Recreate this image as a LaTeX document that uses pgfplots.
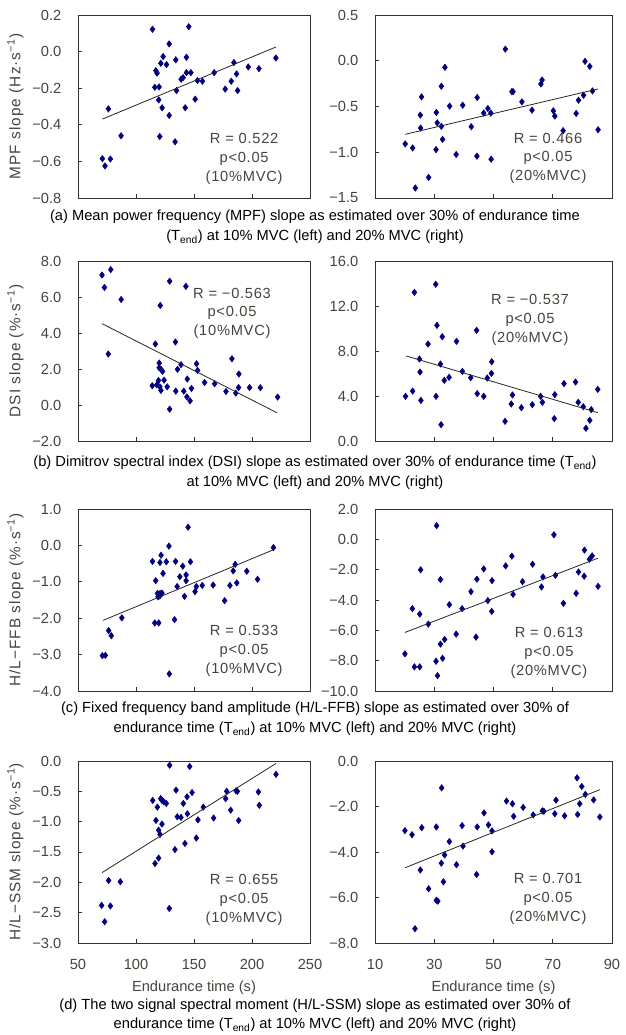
\documentclass[border=0pt]{standalone}
\usepackage{fontspec}
\setmainfont{Liberation Sans}
\newfontfamily\spaced[LetterSpace=7]{Liberation Sans}
\newfontfamily\spacedann[LetterSpace=5]{Liberation Sans}
\usepackage{pgfplots}
\pgfplotsset{compat=1.18}
\definecolor{navy}{RGB}{0,0,128}
\definecolor{tickgray}{RGB}{72,66,60}
\pgfplotsset{
  panel/.style={
    scale only axis,
    axis line style={draw=black!80, line width=0.6pt},
    tick style={draw=black!80, line width=0.5pt},
    tick align=inside,
    major tick length=3pt,
    xtick pos=bottom, ytick pos=left,
    every tick label/.append style={font=\fontsize{11}{13}\selectfont, text=tickgray},
    yticklabel style={xshift=-9pt},
    xticklabel style={yshift=-9pt},
    every axis y label/.style={at={(axis description cs:-0.27,0.5)}, rotate=90, anchor=center, font=\spaced\fontsize{11.5}{13}\selectfont, text=tickgray},
    every axis x label/.style={at={(axis description cs:0.5,-0.247)}, anchor=center, font=\fontsize{11}{13}\selectfont, text=tickgray},
    clip mode=individual,
  },
  leftp/.style={panel, width=174pt, xmin=50, xmax=250, xtick={50,100,150,200,250}},
  rightp/.style={panel, width=177.75pt, xmin=10, xmax=90, xtick={10,30,50,70,90}},
  pts/.style={only marks, mark=diamond*, mark size=2.4pt, mark options={fill=navy, draw=navy}},
  trend/.style={no marks, draw=black!85, line width=0.6pt},
}
\newcommand{\ann}[3]{\node[align=center, font=\spacedann\fontsize{11}{14}\selectfont, text=tickgray] at (rel axis cs:#1,#2) {#3};}
\begin{document}
\begin{tikzpicture}
\path[use as bounding box] (0,0) rectangle (468.75pt,776.25pt);
% ---------- (a) left
\begin{axis}[leftp, at={(58.5pt,627.75pt)}, anchor=south west, height=137.25pt,
  ymin=-0.8, ymax=0.2, ytick={-0.8,-0.6,-0.4,-0.2,0,0.2},
  yticklabels={−0.8,−0.6,−0.4,−0.2,0.0,0.2}, xticklabels={},
  ylabel={MPF slope (Hz·s\textsuperscript{−1})}]
\addplot[pts] coordinates {(114.2,0.122) (145.5,0.136) (128.6,0.042) (123.4,-0.027) (121.4,-0.064) (126.3,-0.071) (117.1,-0.104) (118.2,-0.118) (134.3,-0.045) (143.5,-0.031) (143.5,-0.115) (147.3,-0.115) (138.9,-0.151) (140.6,-0.142) (134.9,-0.213) (116.2,-0.195) (119.9,-0.193) (153.0,-0.158) (157.3,-0.162) (167.4,-0.115) (184.4,-0.060) (186.7,-0.122) (196.8,-0.084) (206.0,-0.093) (220.6,-0.035) (182.1,-0.162) (176.9,-0.205) (187.6,-0.213) (151.0,-0.260) (119.6,-0.264) (122.5,-0.307) (142.4,-0.307) (128.6,-0.349) (76.2,-0.313) (87.1,-0.460) (120.5,-0.464) (133.7,-0.493) (71.0,-0.585) (77.9,-0.587) (73.3,-0.625)};
\addplot[trend] coordinates {(71,-0.369) (220.6,0.025)};
\ann{0.716}{0.213}{R = 0.522\\p<0.05\\(10\%MVC)}
\end{axis}
% ---------- (a) right
\begin{axis}[rightp, at={(281.25pt,627.75pt)}, anchor=south west, height=137.25pt,
  ymin=-1.5, ymax=0.5, ytick={-1.5,-1,-0.5,0,0.5},
  yticklabels={−1.5,−1.0,−0.5,0.0,0.5}, xticklabels={}]
\addplot[pts] coordinates {(54.0,0.127) (80.9,-0.007) (82.5,-0.062) (33.6,-0.072) (32.4,-0.279) (66.4,-0.21) (66.0,-0.254) (56.2,-0.337) (56.6,-0.337) (83.4,-0.33) (80.4,-0.377) (78.7,-0.431) (59.6,-0.449) (44.5,-0.402) (25.7,-0.395) (35.2,-0.496) (39.6,-0.486) (48.1,-0.522) (63.0,-0.54) (70.2,-0.547) (70.7,-0.605) (77.9,-0.576) (25.3,-0.594) (30.7,-0.565) (46.7,-0.572) (49.1,-0.572) (31.0,-0.678) (32.4,-0.717) (42.5,-0.721) (25.4,-0.736) (32.8,-0.859) (73.5,-0.764) (85.3,-0.754) (20.2,-0.909) (22.7,-0.953) (30.6,-0.971) (37.4,-1.025) (44.4,-1.043) (49.2,-1.076) (28.1,-1.275) (23.6,-1.391)};
\addplot[trend] coordinates {(20.2,-0.804) (85.3,-0.308)};
\ann{0.73}{0.217}{R = 0.466\\p<0.05\\(20\%MVC)}
\end{axis}
% ---------- (b) left
\begin{axis}[leftp, at={(58.5pt,445.5pt)}, anchor=south west, height=135pt,
  ymin=-2, ymax=8, ytick={-2,0,2,4,6,8},
  yticklabels={−2.0,0.0,2.0,4.0,6.0,8.0}, xticklabels={},
  ylabel={DSI slope (\%·s\textsuperscript{−1})}]
\addplot[pts] coordinates {(70.7,7.22) (78.2,7.52) (72.8,6.53) (87.2,5.86) (76.1,2.83) (129,6.88) (143,6.59) (120.9,5.53) (116.7,3.39) (134,3.50) (120,2.33) (120,2.07) (121.8,1.96) (122.9,1.87) (135.8,1.98) (138.8,2.24) (152.2,2.29) (153.1,1.92) (182.7,2.57) (188.7,1.72) (114,1.07) (117.9,1.12) (119.4,1.36) (124.2,1.38) (126.9,1.01) (120.6,1.01) (121.5,0.81) (144.2,1.44) (159.1,1.25) (167.8,1.18) (147.8,0.92) (134.3,0.77) (141.2,0.77) (177.6,0.75) (186,0.66) (188.4,0.97) (197.9,0.97) (207.2,0.96) (143.9,0.45) (146.6,0.23) (129,-0.23) (222.1,0.44)};
\addplot[trend] coordinates {(70.7,4.52) (221.8,-0.44)};
\ann{0.664}{0.71}{R = −0.563\\p<0.05\\(10\%MVC)}
\end{axis}
% ---------- (b) right
\begin{axis}[rightp, at={(281.25pt,445.5pt)}, anchor=south west, height=135pt,
  ymin=0, ymax=16, ytick={0,4,8,12,16},
  yticklabels={0.0,4.0,8.0,12.0,16.0}, xticklabels={}]
\addplot[pts] coordinates {(30.5,13.93) (23.3,13.21) (30.9,10.28) (44.3,9.84) (32.7,9.27) (27.9,8.62) (37.5,8.86) (25,7.29) (49.4,7.05) (32.1,6.84) (25.2,6.13) (49.3,6.01) (39.5,6.19) (35,5.66) (33.4,5.39) (42.3,5.63) (47.9,5.6) (20.3,3.97) (22.7,4.44) (25.5,3.61) (30.6,3.97) (32.3,1.45) (44.5,4.21) (46.7,3.97) (53.9,1.75) (56.4,4.09) (56,3.29) (59.4,2.96) (63.1,3.23) (65.9,3.97) (66.5,3.44) (70.7,4.12) (70.5,1.99) (73.8,5.1) (77.7,5.24) (78.6,3.44) (80.3,3.05) (81.2,1.13) (82.5,1.84) (83,2.79) (85.2,4.59)};
\addplot[trend] coordinates {(20.5,7.56) (85.2,2.52)};
\ann{0.654}{0.672}{R = −0.537\\p<0.05\\(20\%MVC)}
\end{axis}
% ---------- (c) left
\begin{axis}[leftp, at={(58.5pt,258pt)}, anchor=south west, height=136.5pt,
  ymin=-4, ymax=1, ytick={-4,-3,-2,-1,0,1},
  yticklabels={−4.0,−3.0,−2.0,−1.0,0.0,1.0}, xticklabels={},
  ylabel={H/L−FFB slope (\%·s\textsuperscript{−1})}]
\addplot[pts] coordinates {(144.9,0.50) (128.4,-0.02) (218.5,-0.06) (114.2,-0.44) (120.7,-0.47) (126.1,-0.45) (134.1,-0.44) (121.6,-0.27) (146.9,-0.45) (140.3,-0.57) (123.3,-0.77) (137.8,-0.86) (143.2,-0.81) (143.2,-0.97) (117,-0.97) (185.5,-0.52) (183.8,-0.70) (195.5,-0.71) (204.8,-0.93) (186.9,-1.03) (181,-1.10) (166.5,-1.09) (157.1,-1.10) (152,-1.13) (135.5,-1.13) (150.9,-1.27) (141.8,-1.40) (176.4,-1.52) (118.5,-1.32) (120.7,-1.32) (122.4,-1.31) (119,-1.41) (120.5,-1.39) (87.8,-1.99) (133.2,-2.04) (116.2,-2.13) (119.6,-2.13) (76.4,-2.34) (78.7,-2.48) (71,-3.03) (73.6,-3.02) (128.7,-3.53)};
\addplot[trend] coordinates {(71.6,-2.06) (218.5,-0.12)};
\ann{0.716}{0.22}{R = 0.533\\p<0.05\\(10\%MVC)}
\end{axis}
% ---------- (c) right
\begin{axis}[rightp, at={(281.25pt,258pt)}, anchor=south west, height=136.5pt,
  ymin=-10, ymax=2, ytick={-10,-8,-6,-4,-2,0,2},
  yticklabels={−10.0,−8.0,−6.0,−4.0,−2.0,0.0,2.0}, xticklabels={}]
\addplot[pts] coordinates {(30.8,0.90) (70.4,0.30) (80.7,-0.71) (83.3,-1.09) (82.4,-1.31) (56.2,-1.11) (54.1,-1.75) (63.2,-1.64) (46.7,-1.95) (25.4,-2.01) (32.1,-2.65) (44.4,-2.63) (49.5,-2.72) (59.8,-2.79) (66.7,-2.48) (70.9,-2.37) (78.7,-2.15) (80.6,-2.43) (66.2,-3.14) (85.3,-3.10) (42.4,-3.45) (56.6,-3.63) (77.9,-3.56) (73.6,-4.22) (48.1,-4.04) (35.1,-4.31) (22.6,-4.57) (25.1,-4.93) (39.4,-4.57) (49.4,-4.75) (28,-5.59) (37.4,-6.25) (44.1,-6.45) (33.5,-6.60) (32.1,-6.91) (20.1,-7.55) (30.6,-8.04) (32.8,-7.84) (23.3,-8.41) (25.1,-8.41) (31.1,-8.99)};
\addplot[trend] coordinates {(20.1,-6.14) (85.3,-1.24)};
\ann{0.734}{0.209}{R = 0.613\\p<0.05\\(20\%MVC)}
\end{axis}
% ---------- (d) left
\begin{axis}[leftp, at={(58.5pt,69pt)}, anchor=south west, height=136.5pt,
  ymin=-3, ymax=0, ytick={-3,-2.5,-2,-1.5,-1,-0.5,0},
  yticklabels={−3.0,−2.5,−2.0,−1.5,−1.0,−0.5,0.0},
  xticklabels={50,100,150,200,250},
  xlabel={Endurance time (s)},
  ylabel={H/L−SSM slope (\%·s\textsuperscript{−1})}]
\addplot[pts] coordinates {(129,-0.07) (146.3,-0.09) (220.7,-0.22) (134.5,-0.48) (148.3,-0.52) (178.2,-0.50) (186.2,-0.49) (187.4,-0.50) (205.5,-0.51) (114.4,-0.65) (121.3,-0.62) (122.4,-0.65) (123.9,-0.67) (126.1,-0.70) (118.4,-0.76) (144,-0.59) (140.8,-0.70) (144.3,-0.87) (177.3,-0.62) (158,-0.76) (181.6,-0.81) (206.3,-0.73) (135.6,-0.92) (138.8,-0.93) (117.2,-0.98) (153.4,-0.97) (166.9,-0.94) (188.5,-0.98) (122.4,-1.04) (119.5,-1.14) (120.7,-1.21) (152,-1.27) (142.2,-1.36) (133.6,-1.46) (119.5,-1.60) (116.4,-1.69) (76.4,-1.97) (86.5,-1.99) (70.4,-2.38) (77.9,-2.39) (128.7,-2.43) (73,-2.65)};
\addplot[trend] coordinates {(70.7,-1.84) (220.7,-0.04)};
\ann{0.716}{0.236}{R = 0.655\\p<0.05\\(10\%MVC)}
\end{axis}
% ---------- (d) right
\begin{axis}[rightp, at={(281.25pt,69pt)}, anchor=south west, height=136.5pt,
  ymin=-8, ymax=0, ytick={-8,-6,-4,-2,0},
  yticklabels={−8.0,−6.0,−4.0,−2.0,0.0},
  xticklabels={10,30,50,70,90},
  xlabel={Endurance time (s)}]
\addplot[pts] coordinates {(78.2,-0.74) (79.8,-1.12) (32.5,-1.18) (81,-1.47) (83.8,-1.71) (71.1,-1.72) (54.4,-1.76) (56.4,-1.88) (60,-2.04) (79.1,-1.88) (46.8,-2.28) (66.5,-2.19) (67,-2.21) (63.4,-2.37) (70.7,-2.32) (74,-2.41) (78.4,-2.35) (56.8,-2.43) (85.9,-2.46) (20.1,-3.06) (22.5,-3.24) (25.8,-2.93) (30.7,-2.90) (39.4,-2.84) (44.5,-2.90) (48.3,-2.81) (49.5,-3.07) (35.1,-3.54) (39.7,-3.74) (33.5,-4.13) (49.5,-3.99) (32.4,-4.49) (37.5,-4.56) (25.3,-4.79) (44.3,-4.99) (33.1,-5.31) (28.1,-5.62) (30.7,-6.12) (31.2,-6.16) (23.5,-7.37)};
\addplot[trend] coordinates {(20.2,-4.69) (85.9,-1.26)};
\ann{0.73}{0.242}{R = 0.701\\p<0.05\\(20\%MVC)}
\end{axis}
% ---------- captions
\begin{scope}[every node/.style={font=\fontsize{11}{13}\selectfont, anchor=center, inner sep=0pt}]
\node at (236.25pt,613.5pt) {(a) Mean power frequency (MPF) slope as estimated over 30\% of endurance time};
\node at (236.25pt,598.5pt) {(T\textsubscript{end}) at 10\% MVC (left) and 20\% MVC (right)};
\node at (236.25pt,429pt) {(b) Dimitrov spectral index (DSI) slope as estimated over 30\% of endurance time (T\textsubscript{end})};
\node at (236.25pt,414pt) {at 10\% MVC (left) and 20\% MVC (right)};
\node at (236.25pt,244.5pt) {(c) Fixed frequency band amplitude (H/L-FFB) slope as estimated over 30\% of};
\node at (236.25pt,229.5pt) {endurance time (T\textsubscript{end}) at 10\% MVC (left) and 20\% MVC (right)};
\node at (236.25pt,21.75pt) {(d) The two signal spectral moment (H/L-SSM) slope as estimated over 30\% of};
\node at (236.25pt,7.5pt) {endurance time (T\textsubscript{end}) at 10\% MVC (left) and 20\% MVC (right)};
\end{scope}
\end{tikzpicture}
\end{document}
